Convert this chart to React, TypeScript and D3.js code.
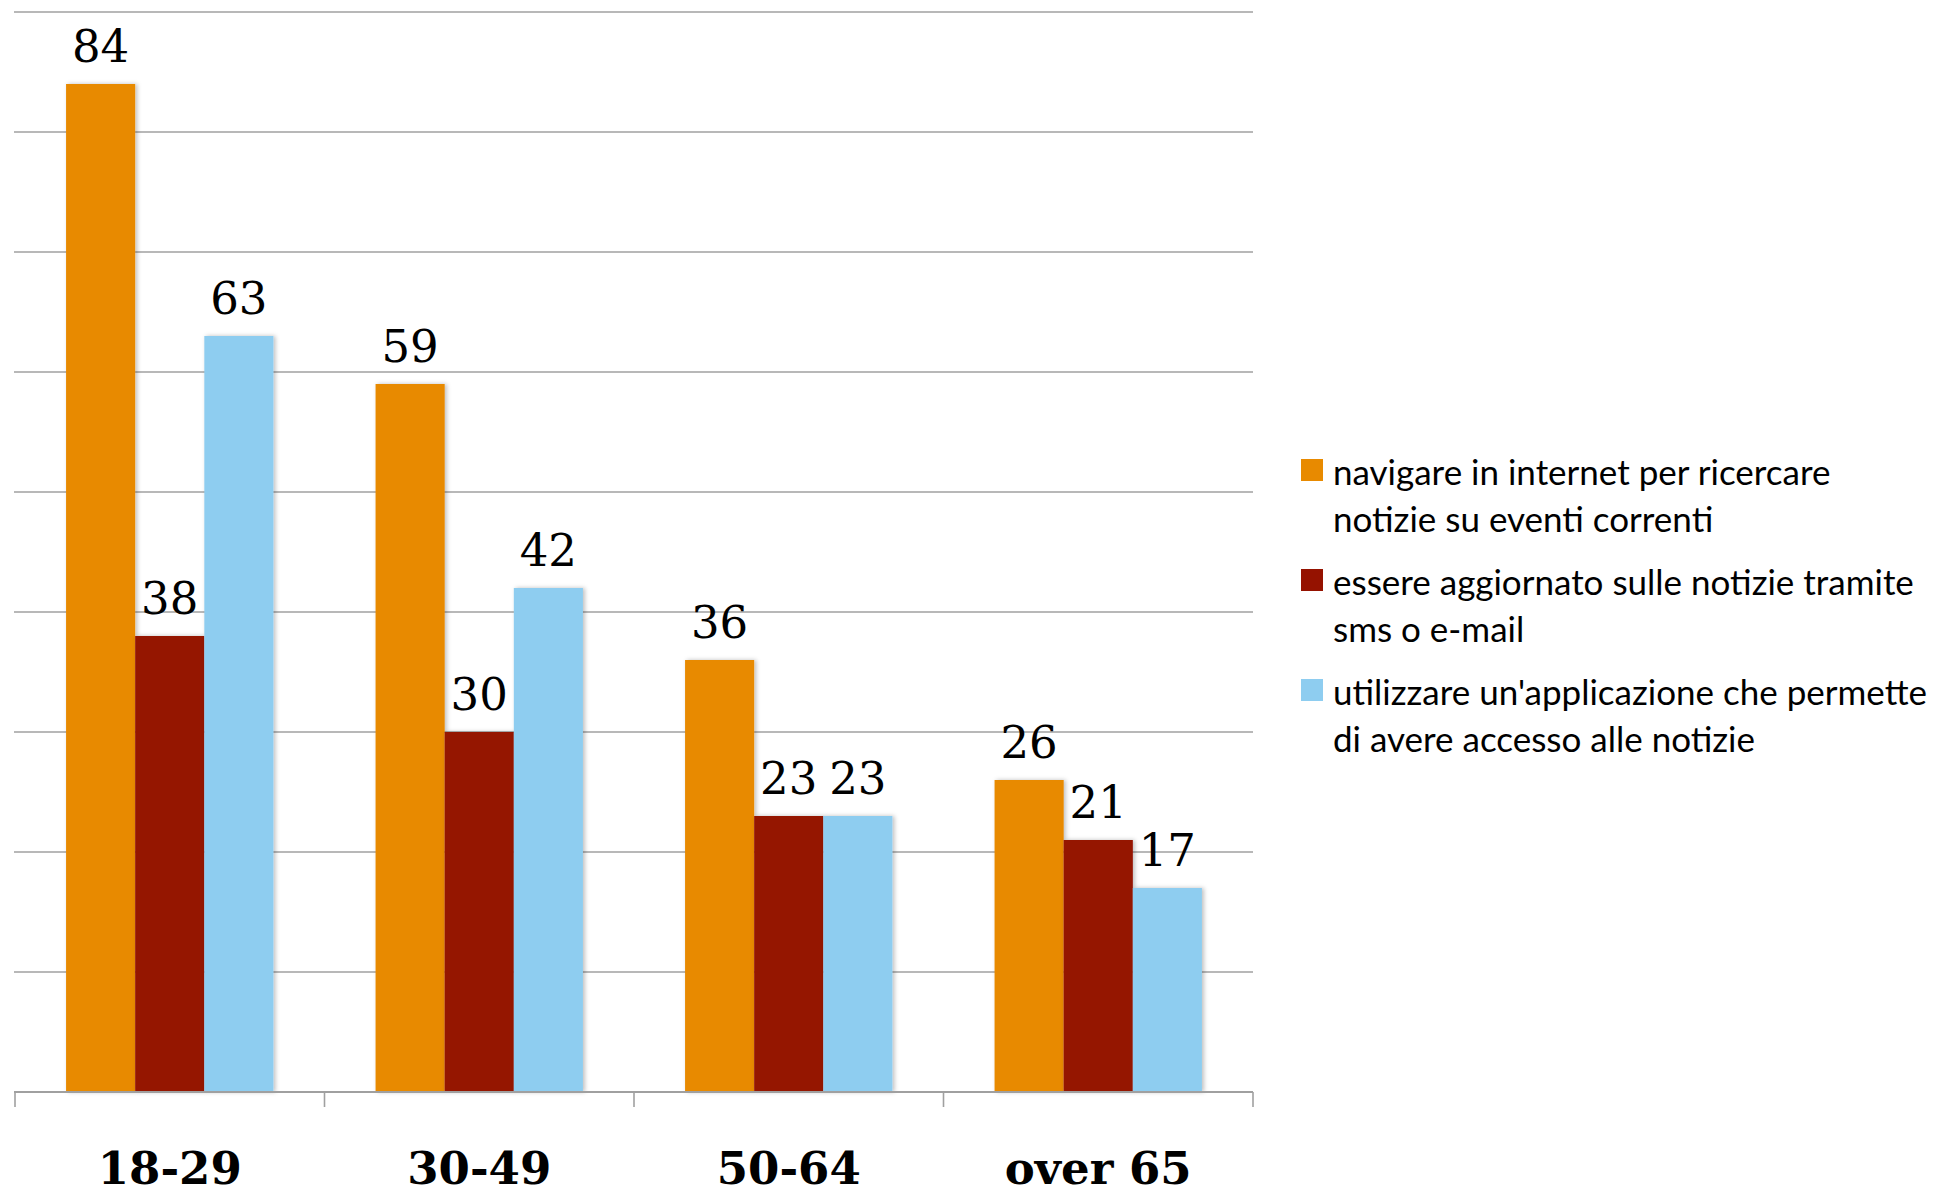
import * as d3 from "d3";

const categories = ["18-29", "30-49", "50-64", "over 65"];
const seriesKeys = ["nav", "sms", "app"];
const navValues = [84, 59, 36, 26];
const smsValues = [38, 30, 23, 21];
const appValues = [63, 42, 23, 17];
const legendLines = [
  ["navigare in internet per ricercare", "notizie su eventi correnti"],
  ["essere aggiornato sulle notizie tramite", "sms o e-mail"],
  ["utilizzare un'applicazione che permette", "di avere accesso alle notizie"],
];
const yTicks = [0, 10, 20, 30, 40, 50, 60, 70, 80, 90];

const colors = ["#E88A00", "#951200", "#8ECDF0"];
const seriesValues = [navValues, smsValues, appValues];

const W = 1955;
const H = 1199;

export default function App() {
  const x0 = d3
    .scaleBand()
    .domain(categories)
    .range([15, 1253])
    .paddingInner(0.33)
    .paddingOuter(0.165);
  const x1 = d3.scaleBand().domain(seriesKeys).range([0, x0.bandwidth()]).padding(0);
  const y = d3.scaleLinear().domain([0, 90]).range([1092, 12]);

  const step = x0.step();
  const axisStart = 15;
  const boundaries = d3.range(categories.length + 1).map((i) => axisStart + i * step);

  return (
    <svg
      width={W}
      height={H}
      viewBox={`0 0 ${W} ${H}`}
      style={{ position: "absolute", left: 0, top: 0, background: "#fff" }}
    >
      <defs>
        <filter id="shadow" x="-10%" y="-10%" width="130%" height="120%">
          <feDropShadow dx="2" dy="0" stdDeviation="2" floodColor="#000" floodOpacity="0.25" />
        </filter>
      </defs>

      {/* gridlines */}
      <g>
        {yTicks.slice(1).map((t) => (
          <line key={t} x1={14} x2={1253} y1={y(t)} y2={y(t)} stroke="#A0A0A0" strokeWidth={1.6} />
        ))}
      </g>

      {/* bars */}
      {categories.map((c, ci) => (
        <g key={c} transform={`translate(${x0(c)},0)`}>
          {seriesKeys.map((k, si) => {
            const v = seriesValues[si][ci];
            return (
              <rect
                key={k}
                x={x1(k)}
                y={y(v)}
                width={x1.bandwidth()}
                height={y(0) - y(v)}
                fill={colors[si]}
                filter="url(#shadow)"
              />
            );
          })}
          {seriesKeys.map((k, si) => {
            const v = seriesValues[si][ci];
            return (
              <text
                key={k}
                x={x1(k)! + x1.bandwidth() / 2}
                y={y(v) - 22}
                textAnchor="middle"
                fontFamily="'DejaVu Serif', serif"
                fontSize={45}
                fill="#000"
              >
                {v}
              </text>
            );
          })}
        </g>
      ))}

      {/* x axis */}
      <line x1={14} x2={1253} y1={y(0)} y2={y(0)} stroke="#A0A0A0" strokeWidth={2} />
      {boundaries.map((b, i) => (
        <line key={i} x1={b} x2={b} y1={y(0)} y2={y(0) + 15} stroke="#A0A0A0" strokeWidth={1.6} />
      ))}
      {categories.map((c) => (
        <text
          key={c}
          x={x0(c)! + x0.bandwidth() / 2}
          y={1184}
          textAnchor="middle"
          fontFamily="'DejaVu Serif', serif"
          fontWeight="bold"
          fontSize={45}
          fill="#000"
        >
          {c}
        </text>
      ))}

      {/* legend */}
      {legendLines.map((lines, i) => (
        <g key={i} transform={`translate(1301,${459 + i * 110})`}>
          <rect x={0} y={0} width={22} height={22} fill={colors[i]} />
          {lines.map((ln, j) => (
            <text
              key={j}
              x={32}
              y={26 + j * 47}
              fontFamily="Lato, 'Open Sans', sans-serif"
              fontSize={35}
              fill="#000"
            >
              {ln}
            </text>
          ))}
        </g>
      ))}
    </svg>
  );
}
